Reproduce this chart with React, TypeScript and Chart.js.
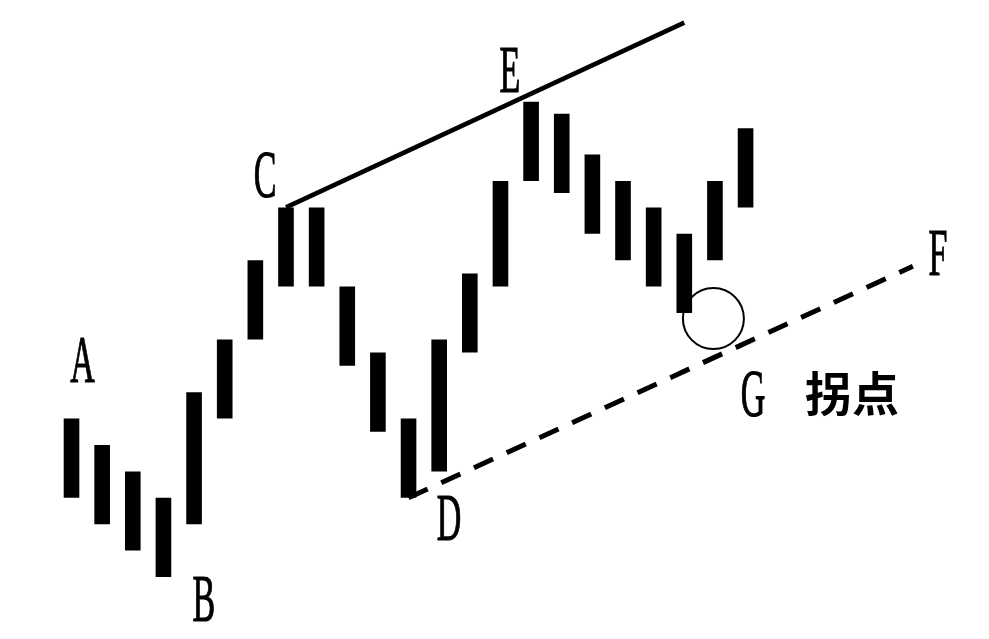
import React, { useEffect, useRef } from "react";
import { Chart, registerables } from "chart.js";

Chart.register(...registerables);

// Bar index positions (x) and each bar's low / high value (price units)
const barIndex = [0, 1, 2, 3, 4, 5, 6, 7, 8, 9, 10, 11, 12, 13, 14, 15, 16, 17, 18, 19, 20, 21, 22];
const barLows = [3, 2, 1, 0, 2, 6, 9, 11, 11, 8, 5.5, 3, 4, 8.5, 11, 15, 14.55, 13, 12, 11, 10, 12, 14];
const barHighs = [6, 5, 4, 3, 7, 9, 12, 14, 14, 11, 8.5, 6, 9, 11.5, 15, 18, 17.55, 16, 15, 14, 13, 15, 17];

// Resistance line C -> E (solid)
const resistX = [7, 20];
const resistY = [14, 21];

// Support line D -> F (dashed)
const supportX = [11, 27.46];
const supportY = [3, 11.77];

// Turning point G (circle)
const turnX = [20.95];
const turnY = [9.79];

// Text annotations (data coordinates)
const letterTexts = ["A", "B", "C", "D", "E", "F", "G"];
const letterX = [0.36, 4.32, 6.32, 12.32, 14.31, 28.28, 22.24];
const letterY = [7.39, -1.67, 14.39, 1.4, 18.37, 11.44, 6.1];
const cnText = "拐点";
const cnX = 25.47;
const cnY = 6.95;

const labelPlugin = {
  id: "labelPlugin",
  afterDatasetsDraw(chart: any) {
    const { ctx, scales } = chart;
    const xs = scales.x;
    const ys = scales.y;
    ctx.save();
    ctx.fillStyle = "#000";
    ctx.textAlign = "center";
    ctx.textBaseline = "alphabetic";
    ctx.font = '68px "Liberation Serif"';
    letterTexts.forEach((t, i) => {
      const px = xs.getPixelForValue(letterX[i]);
      const py = ys.getPixelForValue(letterY[i]);
      ctx.save();
      ctx.translate(px, py);
      ctx.scale(0.5, 1);
      ctx.fillText(t, 0, 0);
      ctx.strokeStyle = "#000";
      ctx.lineWidth = 1.2;
      ctx.strokeText(t, 0, 0);
      ctx.restore();
    });
    ctx.font = 'bold 47px "Noto Sans CJK SC"';
    ctx.textBaseline = "middle";
    ctx.fillText(cnText, xs.getPixelForValue(cnX), ys.getPixelForValue(cnY));
    ctx.restore();
  },
};

export default function App() {
  const ref = useRef<HTMLCanvasElement | null>(null);

  useEffect(() => {
    if (!ref.current) return;
    const chart = new Chart(ref.current, {
      type: "bar",
      data: {
        datasets: [
          {
            type: "scatter",
            data: turnX.map((x, i) => ({ x, y: turnY[i] })),
            pointRadius: 30.5,
            pointStyle: "circle",
            borderColor: "#000",
            borderWidth: 2,
            backgroundColor: "rgba(0,0,0,0)",
            order: 0,
          } as any,
          {
            type: "line",
            data: resistX.map((x, i) => ({ x, y: resistY[i] })),
            borderColor: "#000",
            borderWidth: 4.5,
            pointRadius: 0,
            fill: false,
            order: 1,
          } as any,
          {
            type: "line",
            data: supportX.map((x, i) => ({ x, y: supportY[i] })),
            borderColor: "#000",
            borderWidth: 5,
            borderDash: [21, 15],
            pointRadius: 0,
            fill: false,
            order: 2,
          } as any,
          {
            type: "bar",
            data: barIndex.map((x, i) => ({ x, y: [barLows[i], barHighs[i]] })),
            backgroundColor: "#000",
            borderWidth: 0,
            barPercentage: 0.51,
            categoryPercentage: 1,
            order: 3,
          } as any,
        ],
      },
      options: {
        animation: false,
        responsive: false,
        devicePixelRatio: 1,
        layout: { padding: 0, autoPadding: false },
        plugins: {
          legend: { display: false },
          tooltip: { enabled: false },
        },
        scales: {
          x: {
            type: "linear",
            display: false,
            min: -2.334,
            max: 29.945,
            offset: false,
            bounds: "data",
            grid: { display: false },
          },
          y: {
            type: "linear",
            display: false,
            min: -2.348,
            max: 21.856,
            beginAtZero: false,
            bounds: "data",
            grid: { display: false },
          },
        },
      } as any,
      plugins: [labelPlugin],
    });
    return () => chart.destroy();
  }, []);

  return (
    <div style={{ position: "fixed", left: 0, top: 0, width: 989, height: 639, background: "#fff" }}>
      <canvas ref={ref} width={989} height={639} style={{ display: "block" }} />
    </div>
  );
}
